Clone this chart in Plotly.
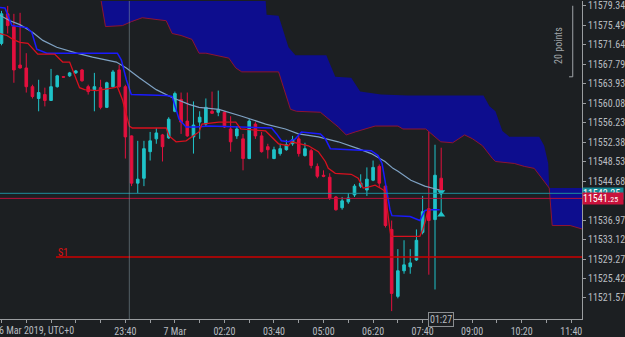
import pandas as pd
import plotly.graph_objects as go

# ---------------- data ----------------
T0 = pd.Timestamp("2019-03-06 20:20")   # time of first visible 10-minute bar
BAR_MIN = 10

opens = [11571.88, 11577.72, 11575.19, 11567.60, 11567.02, 11563.32, 11560.99, 11561.77, 11560.60, 11563.32,
         11565.30, 11565.46, 11566.05, 11566.63, 11563.32, 11562.74, 11563.13, 11559.24, 11563.32, 11566.63,
         11563.32, 11553.60, 11544.26, 11545.23, 11550.48, 11553.01, 11553.79, 11553.21, 11558.46, 11560.80,
         11556.52, 11553.40, 11556.32, 11555.93, 11558.46, 11558.27, 11558.27, 11554.96, 11553.60, 11553.01,
         11549.12, 11555.93, 11553.60, 11551.46, 11549.12, 11550.10, 11550.87, 11552.04, 11553.01, 11549.71,
         11550.68, 11547.57, 11545.82, 11545.43, 11541.53, 11539.40, 11540.56, 11541.92, 11543.67, 11542.90,
         11544.84, 11547.57, 11543.67, 11535.11, 11521.89, 11526.94, 11527.72, 11529.08, 11534.53, 11539.20,
         11537.06, 11545.23]
highs = [11578.30, 11579.28, 11577.72, 11577.92, 11569.94, 11563.71, 11564.69, 11563.13, 11566.83, 11565.66,
         11565.40, 11566.24, 11566.63, 11566.83, 11563.71, 11566.05, 11564.69, 11564.30, 11566.63, 11567.60,
         11563.71, 11553.70, 11552.62, 11552.62, 11554.38, 11555.15, 11553.99, 11557.29, 11562.35, 11562.16,
         11562.16, 11560.41, 11558.46, 11560.99, 11562.35, 11562.55, 11558.46, 11557.49, 11555.54, 11553.99,
         11556.90, 11556.32, 11554.38, 11552.04, 11551.46, 11552.04, 11552.82, 11553.60, 11553.60, 11552.24,
         11551.07, 11548.15, 11546.79, 11546.21, 11541.73, 11541.53, 11542.31, 11544.06, 11546.01, 11547.37,
         11548.73, 11547.95, 11543.87, 11536.87, 11531.22, 11532.97, 11531.22, 11535.11, 11541.73, 11559.24,
         11551.85, 11551.26]
lows = [11571.50, 11573.83, 11564.10, 11566.90, 11562.16, 11560.99, 11558.46, 11559.43, 11560.50, 11563.13,
        11565.10, 11565.27, 11565.85, 11564.30, 11561.77, 11558.46, 11558.85, 11559.10, 11563.13, 11563.13,
        11549.12, 11543.67, 11542.31, 11543.67, 11548.73, 11552.04, 11548.54, 11553.01, 11558.27, 11553.99,
        11553.40, 11550.10, 11553.01, 11555.54, 11557.95, 11557.49, 11555.15, 11550.48, 11553.01, 11546.79,
        11549.00, 11553.01, 11550.29, 11549.12, 11549.00, 11549.71, 11550.68, 11551.65, 11549.51, 11549.51,
        11547.18, 11545.23, 11545.43, 11540.95, 11538.81, 11539.01, 11540.17, 11541.53, 11543.29, 11541.73,
        11544.65, 11543.29, 11535.50, 11518.97, 11521.50, 11526.36, 11526.36, 11528.89, 11534.14, 11526.17,
        11523.25, 11542.30]
closes = [11577.72, 11575.39, 11566.63, 11567.02, 11563.32, 11561.38, 11562.16, 11560.60, 11563.32, 11565.46,
          11565.20, 11566.05, 11566.44, 11564.49, 11562.35, 11563.32, 11559.24, 11564.10, 11566.24, 11563.32,
          11553.40, 11544.26, 11545.04, 11551.07, 11552.62, 11554.18, 11551.46, 11556.90, 11561.96, 11556.32,
          11553.60, 11555.74, 11557.29, 11559.24, 11558.07, 11558.85, 11555.35, 11552.43, 11554.96, 11549.12,
          11556.52, 11553.60, 11550.48, 11550.87, 11550.87, 11551.07, 11551.85, 11552.82, 11550.10, 11551.07,
          11547.76, 11545.62, 11545.62, 11541.34, 11539.01, 11540.76, 11541.34, 11543.67, 11544.26, 11545.04,
          11547.37, 11544.26, 11535.89, 11522.47, 11526.94, 11528.11, 11528.50, 11532.97, 11538.62, 11536.87,
          11545.82, 11542.30]

# indicator lines: vertices as (bar index, price)
ma_bars = [-1, 1.37, 2.97, 5.06, 6.67, 8.92, 12.13, 14.70, 18.55, 20.16, 22.25, 24.98, 27.55, 30.28, 31.89,
           35.10, 38.79, 42.65, 45.85, 47.95, 51.16, 54.38, 57.60, 59.69, 61.93, 63.21, 64.02, 66.10, 68.35, 70.76]
ma_vals = [11577.92, 11576.36, 11575.58, 11574.03, 11572.47, 11571.11, 11569.94, 11569.16, 11568.19, 11567.02,
           11565.08, 11562.74, 11561.19, 11559.83, 11559.24, 11558.85, 11557.49, 11555.93, 11554.96, 11553.99,
           11553.41, 11552.43, 11551.07, 11550.10, 11548.54, 11547.18, 11546.60, 11544.84, 11543.68, 11542.90]

kijun_bars = [-1, 0.56, 1.69, 4.10, 4.90, 5.70, 7.31, 18.71, 19.36, 20.16, 20.96, 26.59, 27.55, 28.67, 29.80,
              31.41, 33.49, 43.61, 44.42, 45.20, 46.34, 47.46, 48.43, 51.49, 52.29, 53.10, 59.69, 60.81, 61.45,
              62.09, 62.73, 63.05, 65.98, 67.55, 68.35, 68.84, 70.76]
kijun_vals = [11579.09, 11578.89, 11575.39, 11575.00, 11574.03, 11570.72, 11569.94, 11569.94, 11568.58, 11564.69,
              11561.77, 11561.58, 11561.38, 11556.91, 11555.35, 11555.35, 11555.54, 11555.16, 11553.99, 11552.63,
              11552.43, 11553.02, 11554.38, 11553.99, 11553.02, 11551.07, 11550.68, 11549.71, 11548.15, 11543.29,
              11539.01, 11537.84, 11537.65, 11536.87, 11538.81, 11539.01, 11539.01]

tenkan_bars = [-1, 0.88, 1.85, 2.97, 4.26, 5.06, 5.86, 8.59, 9.88, 11.00, 11.81, 12.61, 13.41, 15.34, 18.23,
               18.71, 19.52, 20.64, 21.12, 26.59, 27.07, 28.19, 29.80, 31.89, 32.37, 35.10, 37.83, 38.63, 42.65,
               43.13, 44.74, 46.34, 46.82, 49.56, 51.16, 52.29, 52.77, 53.90, 56.47, 57.60, 58.40, 59.20, 60.33,
               61.13, 61.93, 62.73, 62.89, 67.55, 68.03, 68.51, 68.84, 69.32]
tenkan_vals = [11574.03, 11573.44, 11572.67, 11572.08, 11571.89, 11570.92, 11569.75, 11569.75, 11568.19, 11568.19,
               11565.66, 11563.13, 11562.74, 11562.55, 11563.13, 11563.33, 11560.80, 11555.54, 11555.16, 11555.16,
               11553.60, 11552.43, 11552.63, 11554.38, 11555.93, 11556.32, 11556.32, 11554.96, 11554.57, 11553.99,
               11552.04, 11551.65, 11552.43, 11551.65, 11550.49, 11548.54, 11547.18, 11546.21, 11546.01, 11545.23,
               11543.29, 11543.48, 11543.87, 11543.29, 11542.70, 11534.92, 11533.75, 11533.75, 11535.12, 11537.06,
               11539.01, 11539.01]

# cloud: upper span (no border) and lower span (dark-red border)
span_up_bars = [15.82, 42.49, 42.81, 44.74, 46.34, 47.46, 52.45, 53.90, 56.47, 57.92, 61.29, 65.62, 77.83,
                78.80, 79.76, 80.88, 82.01, 86.83, 87.63, 88.28, 88.44, 94.54]
span_up_vals = [11583.17, 11583.17, 11577.53, 11577.34, 11571.11, 11569.55, 11569.55, 11565.27, 11565.08,
                11562.36, 11561.77, 11561.58, 11561.58, 11559.44, 11558.46, 11554.57, 11553.41, 11553.41,
                11551.65, 11548.15, 11543.29, 11543.29]
span_lo_bars = [15.82, 16.10, 16.79, 19.52, 20.96, 22.73, 26.59, 27.55, 28.99, 30.76, 31.89, 33.01, 36.70, 37.83,
                38.79, 44.74, 46.66, 47.63, 51.49, 54.38, 55.66, 57.11, 60.33, 64.02, 64.82, 68.51, 70.92, 72.85,
                74.78, 76.07, 77.67, 79.28, 79.76, 82.81, 84.42, 86.02, 87.63, 88.44, 88.92, 91.81, 94.54]
span_lo_vals = [11582.20, 11580.25, 11575.20, 11575.39, 11576.17, 11576.95, 11576.36, 11573.83, 11573.44, 11572.67,
                11569.94, 11569.94, 11568.97, 11567.02, 11566.25, 11566.25, 11558.85, 11558.46, 11558.27, 11555.35,
                11553.79, 11554.38, 11555.54, 11555.54, 11554.96, 11554.96, 11552.43, 11552.24, 11553.79, 11553.02,
                11551.65, 11549.12, 11548.54, 11548.15, 11547.57, 11547.18, 11544.65, 11543.29, 11535.89, 11535.89,
                11534.92]

ASK = 11542.25
BID = 11541.25
S1 = 11529.67
S1_START_BAR = 8.8
CROSSHAIR_BAR = 20.64
trade_bars = [71, 71]
trade_vals = [11542.50, 11538.00]

y_ticks = [11579.34, 11575.49, 11571.64, 11567.79, 11563.93, 11560.08, 11556.23, 11552.38, 11548.53,
           11544.68, 11536.97, 11533.12, 11529.27, 11525.42, 11521.57]
x_tick_times = ["2019-03-06 23:40", "2019-03-07 01:00", "2019-03-07 02:20", "2019-03-07 03:40",
                "2019-03-07 05:00", "2019-03-07 06:20", "2019-03-07 07:40", "2019-03-07 09:00",
                "2019-03-07 10:20", "2019-03-07 11:40"]
x_tick_text = ["23:40", "7 Mar", "02:20", "03:40", "05:00", "06:20", "07:40", "09:00", "10:20", "11:40"]
X_RANGE = ["2019-03-06 20:17:35", "2019-03-07 11:57:21"]
Y_RANGE = [11517.414, 11580.254]

# ---------------- styling ----------------
BG = "#1c1f22"
AX = "#9a9da0"
TXT = "#b8bcc0"
TEAL = "#1fc3c9"
RED = "#e3103e"
FONT = "Liberation Sans Narrow, Roboto Condensed, DejaVu Sans Condensed, Liberation Sans, sans-serif"


def t(b):
    return T0 + pd.Timedelta(minutes=BAR_MIN * b)


bars_t = [t(i) for i in range(len(opens))]

fig = go.Figure()

# cloud
cx = [t(b) for b in span_up_bars] + [t(b) for b in reversed(span_lo_bars)]
cy = list(span_up_vals) + list(reversed(span_lo_vals))
fig.add_trace(go.Scatter(x=cx, y=cy, fill="toself", fillcolor="#0d0d8e", mode="lines",
                         line=dict(width=0), hoverinfo="skip"))
fig.add_trace(go.Scatter(x=[t(b) for b in span_lo_bars], y=span_lo_vals, mode="lines",
                         line=dict(color="#8e1432", width=1)))

fig.add_trace(go.Scatter(x=[t(b) for b in ma_bars], y=ma_vals, mode="lines",
                         line=dict(color="#7fa2c4", width=1.2)))
fig.add_trace(go.Scatter(x=[t(b) for b in kijun_bars], y=kijun_vals, mode="lines",
                         line=dict(color="#1a1aff", width=1.5)))
fig.add_trace(go.Scatter(x=[t(b) for b in tenkan_bars], y=tenkan_vals, mode="lines",
                         line=dict(color="#d8101e", width=1.3)))

fig.add_trace(go.Candlestick(
    x=bars_t, open=opens, high=highs, low=lows, close=closes,
    increasing=dict(line=dict(color=TEAL, width=1), fillcolor=TEAL),
    decreasing=dict(line=dict(color=RED, width=1), fillcolor=RED),
    whiskerwidth=0,
))

fig.add_trace(go.Scatter(x=[t(b) for b in trade_bars], y=trade_vals, mode="lines+markers",
                         line=dict(color=TEAL, width=1),
                         marker=dict(symbol=["triangle-down", "triangle-up"], size=7, color=TEAL)))

shapes = [
    dict(type="line", xref="paper", x0=0, x1=1, yref="y", y0=ASK, y1=ASK,
         line=dict(color="#1e8f9c", width=1)),
    dict(type="line", xref="paper", x0=0, x1=1, yref="y", y0=BID, y1=BID,
         line=dict(color="#b8103a", width=1)),
    dict(type="line", xref="x", x0=t(S1_START_BAR), x1=X_RANGE[1], yref="y", y0=S1, y1=S1,
         line=dict(color="#cc0000", width=1.5)),
    dict(type="line", xref="x", x0=t(CROSSHAIR_BAR), x1=t(CROSSHAIR_BAR), yref="paper", y0=0, y1=1,
         line=dict(color="rgba(130,150,160,0.55)", width=1)),
    dict(type="path", xref="paper", yref="paper",
         path="M 0.9841 0.985 L 0.9841 0.7616 L 0.9778 0.7616",
         line=dict(color="#a0a4a8", width=1)),
]

annotations = [
    dict(xref="paper", x=1, yref="y", y=ASK, xanchor="left", yanchor="middle",
         text="11542.25", showarrow=False, bgcolor="#168a96", width=40, height=11, align="left",
         borderpad=0, font=dict(family=FONT, size=10, color="#ffffff")),
    dict(xref="paper", x=1, yref="y", y=BID, xanchor="left", yanchor="middle",
         text="11541.<span style='font-size:8px'>25</span>", showarrow=False, bgcolor="#c8123c",
         width=40, height=11, align="left", borderpad=0,
         font=dict(family=FONT, size=10, color="#ffffff")),
    dict(xref="x", x=t(S1_START_BAR), yref="y", y=S1, xanchor="left", yanchor="bottom", yshift=-3,
         text="S1", showarrow=False, font=dict(family=FONT, size=10, color="#e01010")),
    dict(xref="paper", x=0.9726, yref="paper", y=0.925, text="20 points", textangle=-90,
         showarrow=False, font=dict(family=FONT, size=10, color="#a0a4a8")),
    dict(xref="x", x=t(71), yref="paper", y=0, yanchor="middle", text="01:27", showarrow=False,
         bgcolor=BG, bordercolor="#8a8d90", borderwidth=1, borderpad=1,
         font=dict(family=FONT, size=10, color=TXT)),
    dict(xref="paper", x=0, xshift=-3, yref="paper", y=0, yanchor="top", yshift=-4, xanchor="left",
         text="6 Mar 2019, UTC+0", showarrow=False, font=dict(family=FONT, size=10, color=TXT)),
]

fig.update_layout(
    width=625, height=337,
    margin=dict(l=0, r=40, t=0, b=14),
    paper_bgcolor=BG, plot_bgcolor=BG,
    showlegend=False,
    boxgap=0.4,
    shapes=shapes, annotations=annotations,
    font=dict(family=FONT, size=10, color=TXT),
    xaxis=dict(type="date", range=X_RANGE, rangeslider=dict(visible=False),
               tickvals=x_tick_times, ticktext=x_tick_text, ticks="outside", ticklen=3,
               tickcolor=AX, showline=True, linecolor=AX, linewidth=1, showgrid=False, zeroline=False,
               tickfont=dict(family=FONT, size=10, color=TXT),
               minor=dict(ticks="outside", ticklen=3, tickcolor=AX, dtick=40 * 60 * 1000,
                          tick0="2019-03-06 23:40", showgrid=False)),
    yaxis=dict(side="right", range=Y_RANGE, tickvals=y_ticks, ticktext=[f"{v:.2f}" for v in y_ticks],
               ticks="outside", ticklen=3, tickcolor=AX, showline=True, linecolor=AX, linewidth=1,
               showgrid=False, zeroline=False, ticklabeloverflow="allow",
               tickfont=dict(family=FONT, size=10, color=TXT)),
)

fig.write_html("out.html")
